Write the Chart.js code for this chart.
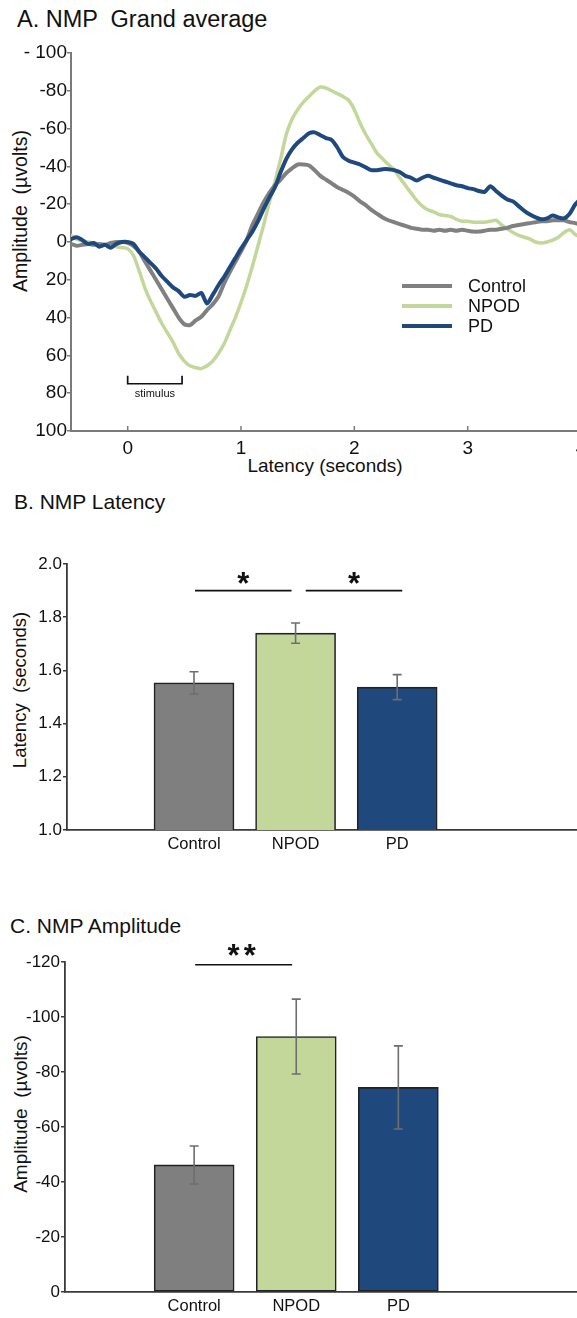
<!DOCTYPE html>
<html>
<head>
<meta charset="utf-8">
<title>NMP grand average, latency and amplitude</title>
<script src="https://cdn.jsdelivr.net/npm/chart.js@4.4.1/dist/chart.umd.min.js"></script>
<style>
  html, body { margin: 0; padding: 0; background: #fff; overflow: hidden; }
  #page { position: relative; width: 577px; height: 1318px; overflow: hidden;
          font-family: "Liberation Sans", Arial, sans-serif; color: #111; }
  #page canvas { position: absolute; left: 0; }
  .panel-title { position: absolute; font-size: 21px; line-height: 1; white-space: pre; }
  .y-title { position: absolute; font-size: 18.5px; line-height: 1; white-space: pre;
             transform: translate(-50%, -50%) rotate(-90deg); }
  .x-title { position: absolute; font-size: 19px; line-height: 1; white-space: pre;
             transform: translate(-50%, -50%); }
</style>
</head>
<body>
<div id="page">
  <div class="panel-title" style="left:17px; top:7.5px; font-size:23.5px;">A. NMP  Grand average</div>
  <div class="y-title" style="left:21px; top:211px; font-size:19.5px;">Amplitude  (µvolts)</div>
  <div class="x-title" style="left:325px; top:465px;">Latency (seconds)</div>
  <canvas id="waveChart" width="600" height="470" style="top:0px;"></canvas>

  <div class="panel-title" style="left:14px; top:491px;">B. NMP Latency</div>
  <div class="y-title" style="left:20px; top:690px;">Latency  (seconds)</div>
  <canvas id="latencyChart" width="577" height="360" style="top:500px;"></canvas>

  <div class="panel-title" style="left:10px; top:915px;">C. NMP Amplitude</div>
  <div class="y-title" style="left:20px; top:1114px; font-size:19px;">Amplitude  (µvolts)</div>
  <canvas id="amplitudeChart" width="577" height="418" style="top:900px;"></canvas>
</div>

<script>
// ---- data -------------------------------------------------------------
const groups = ['Control', 'NPOD', 'PD'];
const groupPositions = [1, 2, 3];

// grand-average waveforms, sampled every 50 ms from -0.5 s to 4.0 s
const latencyS = [
  -0.5, -0.45, -0.4, -0.35, -0.3, -0.25, -0.2, -0.15, -0.1, -0.05,
  0, 0.05, 0.1, 0.15, 0.2, 0.25, 0.3, 0.35, 0.4, 0.45,
  0.5, 0.55, 0.6, 0.65, 0.7, 0.75, 0.8, 0.85, 0.9, 0.95,
  1.0, 1.05, 1.1, 1.15, 1.2, 1.25, 1.3, 1.35, 1.4, 1.45,
  1.5, 1.55, 1.6, 1.65, 1.7, 1.75, 1.8, 1.85, 1.9, 1.95,
  2.0, 2.05, 2.1, 2.15, 2.2, 2.25, 2.3, 2.35, 2.4, 2.45,
  2.5, 2.55, 2.6, 2.65, 2.7, 2.75, 2.8, 2.85, 2.9, 2.95,
  3.0, 3.05, 3.1, 3.15, 3.2, 3.25, 3.3, 3.35, 3.4, 3.45,
  3.5, 3.55, 3.6, 3.65, 3.7, 3.75, 3.8, 3.85, 3.9, 3.95,
  4.0
];
const controlWave = [
  1, 2, 1.5, 1, 1.5, 1, 1.5, 0.5, 0, 0,
  0.5, 2, 5, 10, 15, 20, 25, 30, 35, 40,
  43.5, 44, 41.5, 39.5, 36, 33, 29, 22, 16, 10.5,
  5, -1, -9, -15, -21, -26, -30, -33, -36.5, -39,
  -41, -41, -40.5, -38, -35, -33, -31, -29, -27.5, -26,
  -24, -21.5, -19.5, -17, -15, -13, -11.5, -10.5, -9.5, -8.5,
  -7.5, -7, -6.5, -6.5, -6, -6.5, -6, -6.5, -6, -6.5,
  -6, -5.5, -5.5, -6, -6.5, -6.5, -7, -7.5, -8.5, -9,
  -9.5, -10, -10.5, -11, -11, -11.5, -11.5, -11.5, -10.5, -10,
  -9
];
const npodWave = [
  -3.5, -1.5, -0.5, 0, 0.5, 1, 1.5, 2, 2.5, 3,
  3.5, 7, 15, 24, 31, 37, 43, 48, 53, 59,
  63, 65.5, 66.5, 67, 65.5, 63, 59, 54, 47, 40,
  32, 23, 13, 2, -9, -21, -32, -44, -57, -65,
  -70, -74, -77, -80, -82, -81.5, -80, -78.5, -77, -75,
  -70, -63, -57, -52, -47, -44, -41, -38.5, -34, -30,
  -26, -22, -19, -17, -16, -14.5, -14, -13.5, -12, -11,
  -11, -10.5, -10.5, -10.5, -11, -11.5, -9, -7, -5, -3.5,
  -2.5, -1.5, 0, 0.5, 0, -1, -2.5, -5, -6.5, -4,
  -2.5
];
const pdWave = [
  -1.5, -2.5, -1, 1, 0.5, 2.5, 1.5, 3, 1, 0,
  0, 1, 5, 8, 11, 14, 18, 21, 24, 26,
  29, 28, 28.5, 27, 32.5, 28, 23, 18.5, 13.5, 8.5,
  3.5, -1, -5.5, -11, -17.5, -23.5, -29, -37, -44, -49,
  -52.5, -55, -57.5, -58, -56.5, -55, -54, -50, -45, -43,
  -42, -41, -39.5, -38, -38, -38.5, -38.5, -38, -37, -35,
  -34, -32.5, -34, -35, -34, -33, -32, -31, -30, -29.5,
  -28.5, -28, -27, -26.5, -29.5, -27, -24.5, -22.5, -21.5, -19,
  -16.5, -14.5, -13, -12, -12.5, -14, -13, -12.5, -15, -20,
  -23
];
const waveXTicks = [0, 1, 2, 3, 4];
const waveYTicks = [-100, -80, -60, -40, -20, 0, 20, 40, 60, 80, 100];
const stimulusWindow = [0, 0.48];
const stimulusLevel = 75;

// peak latency (s), mean and standard error
const peakLatencyMean = [1.553, 1.740, 1.537];
const peakLatencySem = [0.042, 0.038, 0.047];
const latencyYTicks = [1.0, 1.2, 1.4, 1.6, 1.8, 2.0];
const latencyComparisons = [
  { from: 1.01, to: 1.96, level: 1.9, text: '*' },
  { from: 2.10, to: 3.05, level: 1.9, text: '*' }
];

// peak amplitude (µV), mean and standard error
const peakAmplitudeMean = [-46.2, -92.9, -74.4];
const peakAmplitudeSem = [6.9, 13.6, 15.1];
const amplitudeYTicks = [0, -20, -40, -60, -80, -100, -120];
const amplitudeComparisons = [
  { from: 1.01, to: 1.96, level: -119, text: '**' }
];

// ---- styling --------------------------------------------------------------
const FONT = '"Liberation Sans", Arial, sans-serif';
const groupLine = ['#808080', '#c4d79b', '#1f497d'];
const groupFill = ['#7f7f7f', '#c4d79b', '#1f497d'];
const lightAxis = '#7a7a7a';
const darkAxis = '#3a3a3a';

Chart.defaults.font.family = FONT;
Chart.defaults.color = '#111';

// ---- plugins ----------------------------------------------------------------
const errorBars = {
  id: 'errorBars',
  afterDatasetsDraw(chart) {
    const ys = chart.scales.y, ctx = chart.ctx;
    chart.data.datasets.forEach((ds, di) => {
      if (!ds.errors) return;
      chart.getDatasetMeta(di).data.forEach((bar, i) => {
        const v = ds.data[i].y, e = ds.errors[i];
        const y1 = ys.getPixelForValue(v - e), y2 = ys.getPixelForValue(v + e);
        ctx.save();
        ctx.strokeStyle = '#6e6e6e';
        ctx.lineWidth = 1.6;
        ctx.beginPath();
        ctx.moveTo(bar.x, y1); ctx.lineTo(bar.x, y2);
        ctx.moveTo(bar.x - 4.5, y1); ctx.lineTo(bar.x + 4.5, y1);
        ctx.moveTo(bar.x - 4.5, y2); ctx.lineTo(bar.x + 4.5, y2);
        ctx.stroke();
        ctx.restore();
      });
    });
  }
};

const sigMarks = {
  id: 'sigMarks',
  afterDraw(chart, args, opts) {
    const xs = chart.scales.x, ys = chart.scales.y, ctx = chart.ctx;
    (opts.marks || []).forEach(m => {
      const x1 = xs.getPixelForValue(m.from), x2 = xs.getPixelForValue(m.to);
      const y = ys.getPixelForValue(m.level);
      ctx.save();
      ctx.strokeStyle = '#111';
      ctx.lineWidth = 1.7;
      ctx.beginPath(); ctx.moveTo(x1, y); ctx.lineTo(x2, y); ctx.stroke();
      ctx.fillStyle = '#111';
      ctx.font = 'bold 31px ' + FONT;
      if (opts.letterSpacing) ctx.letterSpacing = opts.letterSpacing;
      ctx.textAlign = 'center';
      ctx.textBaseline = 'alphabetic';
      const mt = ctx.measureText(m.text);
      const cy = y - opts.gap;
      const base = cy + (mt.actualBoundingBoxAscent - mt.actualBoundingBoxDescent) / 2;
      ctx.fillText(m.text, (x1 + x2) / 2, base);
      ctx.restore();
    });
  }
};

const stimulusMark = {
  id: 'stimulusMark',
  afterDraw(chart, args, opts) {
    const xs = chart.scales.x, ys = chart.scales.y, ctx = chart.ctx;
    const x1 = xs.getPixelForValue(opts.from), x2 = xs.getPixelForValue(opts.to);
    const y = ys.getPixelForValue(opts.level);
    ctx.save();
    ctx.strokeStyle = '#111';
    ctx.lineWidth = 1.7;
    ctx.beginPath();
    ctx.moveTo(x1, y - 8); ctx.lineTo(x1, y); ctx.lineTo(x2, y); ctx.lineTo(x2, y - 8);
    ctx.stroke();
    ctx.fillStyle = '#111';
    ctx.font = '11px ' + FONT;
    ctx.textAlign = 'center';
    ctx.textBaseline = 'middle';
    ctx.fillText(opts.label, (x1 + x2) / 2, y + 10);
    ctx.restore();
  }
};

const insetLegend = {
  id: 'insetLegend',
  afterDraw(chart, args, opts) {
    const ctx = chart.ctx;
    chart.data.datasets.forEach((ds, i) => {
      const y = opts.y + i * opts.rowGap;
      ctx.save();
      ctx.strokeStyle = ds.borderColor;
      ctx.lineWidth = 4;
      ctx.beginPath(); ctx.moveTo(opts.x, y); ctx.lineTo(opts.x + 50, y); ctx.stroke();
      ctx.fillStyle = '#111';
      ctx.font = '18px ' + FONT;
      ctx.textAlign = 'left';
      ctx.textBaseline = 'middle';
      ctx.fillText(ds.label, opts.x + 66, y + 1);
      ctx.restore();
    });
  }
};

const innerTicks = {
  id: 'innerTicks',
  afterDraw(chart) {
    const xs = chart.scales.x, ctx = chart.ctx;
    const bottom = chart.chartArea.bottom;
    ctx.save();
    ctx.strokeStyle = lightAxis;
    ctx.lineWidth = 1.5;
    xs.ticks.forEach(t => {
      const x = xs.getPixelForValue(t.value);
      ctx.beginPath(); ctx.moveTo(x, bottom); ctx.lineTo(x, bottom - 5); ctx.stroke();
    });
    ctx.restore();
  }
};

// ---- A: grand-average waveforms -----------------------------------------
const toPoints = ys => ys.map((y, i) => ({ x: latencyS[i], y }));

new Chart(document.getElementById('waveChart'), {
  type: 'line',
  data: {
    datasets: [
      { label: groups[0], data: toPoints(controlWave), borderColor: groupLine[0], borderWidth: 4, order: 1 },
      { label: groups[1], data: toPoints(npodWave), borderColor: groupLine[1], borderWidth: 3.5, order: 2 },
      { label: groups[2], data: toPoints(pdWave), borderColor: groupLine[2], borderWidth: 4, order: 0 }
    ]
  },
  options: {
    responsive: false, animation: false, devicePixelRatio: 1,
    layout: { padding: { top: 53, right: 19, left: 0, bottom: 0 } },
    elements: { point: { radius: 0 }, line: { tension: 0.25, borderCapStyle: 'round', borderJoinStyle: 'round' } },
    plugins: {
      legend: { display: false }, tooltip: { enabled: false },
      stimulusMark: { from: stimulusWindow[0], to: stimulusWindow[1], level: stimulusLevel, label: 'stimulus' },
      insetLegend: { x: 402, y: 286, rowGap: 20 }
    },
    scales: {
      x: {
        type: 'linear', min: -0.5, max: 4,
        afterBuildTicks: s => { s.ticks = waveXTicks.map(v => ({ value: v })); },
        afterFit: s => { s.height = 39; },
        grid: { drawOnChartArea: false, drawTicks: false },
        border: { color: lightAxis, width: 2 },
        ticks: { padding: 6, font: { size: 19 }, color: '#111', maxRotation: 0 }
      },
      y: {
        type: 'linear', min: -100, max: 100, reverse: true,
        afterBuildTicks: s => { s.ticks = waveYTicks.map(v => ({ value: v })); },
        afterFit: s => { s.width = 71; },
        grid: { drawOnChartArea: false, drawTicks: true, tickLength: 4, color: lightAxis, lineWidth: 1.5 },
        border: { color: lightAxis, width: 2 },
        ticks: { padding: 0, font: { size: 19 }, color: '#111',
                 callback: v => (v === -100 ? '- 100' : String(v)) }
      }
    }
  },
  plugins: [stimulusMark, insetLegend, innerTicks]
});

// ---- shared bar-chart builder -----------------------------------------------
function groupBarChart(canvasId, means, sems, yTicks, yOpts, xRange, leftWidth, xHeight, topPad, marks, markGap, spacing, tickFmt) {
  return new Chart(document.getElementById(canvasId), {
    type: 'bar',
    data: {
      datasets: [{
        data: means.map((m, i) => ({ x: groupPositions[i], y: m })),
        errors: sems,
        backgroundColor: groupFill,
        borderColor: '#222',
        borderWidth: 1.6,
        borderSkipped: false,
        barThickness: 80
      }]
    },
    options: {
      responsive: false, animation: false, devicePixelRatio: 1,
      layout: { padding: { top: topPad, right: 0, left: 0, bottom: 0 } },
      plugins: {
        legend: { display: false }, tooltip: { enabled: false },
        sigMarks: { marks: marks, gap: markGap, letterSpacing: spacing }
      },
      scales: {
        x: {
          type: 'linear', min: xRange[0], max: xRange[1], offset: false,
          afterBuildTicks: s => { s.ticks = groupPositions.map(v => ({ value: v })); },
          afterFit: s => { s.height = xHeight; },
          grid: { drawOnChartArea: false, drawTicks: false, offset: false },
          border: { color: darkAxis, width: 1.8 },
          ticks: { padding: 5, font: { size: 16.5 }, color: '#111', maxRotation: 0,
                   callback: v => groups[groupPositions.indexOf(v)] }
        },
        y: Object.assign({
          type: 'linear',
          afterBuildTicks: s => { s.ticks = yTicks.map(v => ({ value: v })); },
          afterFit: s => { s.width = leftWidth; },
          grid: { drawOnChartArea: false, drawTicks: true, tickLength: 4, color: darkAxis, lineWidth: 1.5 },
          border: { color: darkAxis, width: 1.8 },
          ticks: { padding: 1, font: { size: 17 }, color: '#111', callback: tickFmt }
        }, yOpts)
      }
    },
    plugins: [errorBars, sigMarks]
  });
}

// ---- B: peak latency ---------------------------------------------------------
groupBarChart('latencyChart', peakLatencyMean, peakLatencySem, latencyYTicks,
  { min: 1.0, max: 2.0 }, [-0.25, 4.77], 67, 30, 64,
  latencyComparisons, 13, '0px', v => v.toFixed(1));

// ---- C: peak amplitude -------------------------------------------------------
groupBarChart('amplitudeChart', peakAmplitudeMean, peakAmplitudeSem, amplitudeYTicks,
  { min: -120, max: 0, reverse: true }, [-0.265, 4.75], 65, 26, 62,
  amplitudeComparisons, 15, '4px', v => String(v));
</script>
</body>
</html>
